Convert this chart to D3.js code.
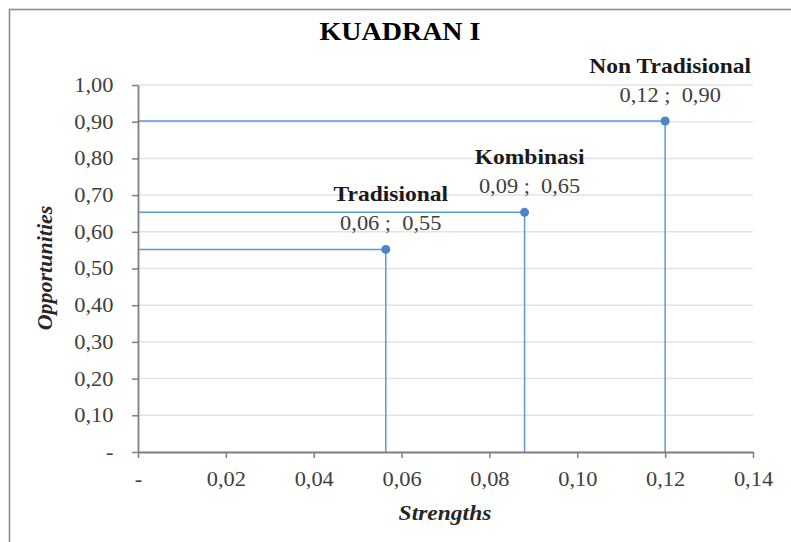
<!DOCTYPE html>
<meta charset="utf-8">
<script src="https://d3js.org/d3.v7.min.js"></script>
<style>
  body { margin: 0; background: #fff; }
  text { font-family: "Liberation Serif", "Times New Roman", serif; }
</style>
<div id="chart"></div>
<script>
// quadrant I data: strengths (x) and opportunities (y) per strategy
const names = ["Tradisional", "Kombinasi", "Non Tradisional"];
const strengths = [0.0564, 0.088, 0.12];
const opportunities = [0.552, 0.653, 0.902];
const xTicks = [0, 0.02, 0.04, 0.06, 0.08, 0.10, 0.12, 0.14];
const yTicks = [0, 0.1, 0.2, 0.3, 0.4, 0.5, 0.6, 0.7, 0.8, 0.9, 1.0];

const W = 791, H = 542;
const margin = {top: 85, right: 38, bottom: 90, left: 138};
const stretch = 1.12; // the source picture is a bit wider than tall
const blue = "#5b9bd5", dot = "#4a86c5";

const fmt = d => d === 0 ? "-" : d3.format(".2f")(d).replace(".", ",");

const svg = d3.select("#chart").append("svg")
  .attr("width", W).attr("height", H);

// outer frame
svg.append("rect")
  .attr("x", 9.5).attr("y", 9.5)
  .attr("width", 900).attr("height", 700)
  .attr("fill", "#fff").attr("stroke", "#8c8c8c").attr("stroke-width", 1.6);

const x = d3.scaleLinear().domain([0, 0.14]).range([margin.left, W - margin.right]);
const y = d3.scaleLinear().domain([0, 1]).range([H - margin.bottom, margin.top]);

// horizontal gridlines
svg.append("g")
  .selectAll("line")
  .data(yTicks.filter(d => d > 0))
  .enter().append("line")
  .attr("x1", x(0)).attr("x2", x(0.14))
  .attr("y1", d => y(d)).attr("y2", d => y(d))
  .attr("stroke", "#e3e3e3").attr("stroke-width", 1.5);

// drop lines from each point to both axes
const idx = d3.range(names.length);
svg.append("g")
  .selectAll("path")
  .data(idx)
  .enter().append("path")
  .attr("d", i => `M${x(0)},${y(opportunities[i])}H${x(strengths[i])}V${y(0)}`)
  .attr("fill", "none").attr("stroke", blue).attr("stroke-width", 1.5);

// axes
const yAxis = svg.append("g")
  .attr("transform", `translate(${x(0)},0)`)
  .call(d3.axisLeft(y).tickValues(yTicks).tickFormat(fmt).tickSize(6).tickSizeOuter(0).tickPadding(16));
const xAxis = svg.append("g")
  .attr("transform", `translate(0,${y(0)})`)
  .call(d3.axisBottom(x).tickValues(xTicks).tickFormat(fmt).tickSize(6).tickSizeOuter(0).tickPadding(14));

[xAxis, yAxis].forEach(ax => {
  ax.select(".domain").attr("stroke", "#7f7f7f").attr("stroke-width", 1.8);
  ax.selectAll(".tick line").attr("stroke", "#7f7f7f").attr("stroke-width", 1.5);
  ax.selectAll(".tick text")
    .attr("font-family", "Liberation Serif")
    .attr("font-size", 20)
    .attr("fill", "#404040")
    .attr("transform", `scale(${stretch},1)`);
});

// points
svg.append("g")
  .selectAll("circle")
  .data(idx)
  .enter().append("circle")
  .attr("cx", i => x(strengths[i]))
  .attr("cy", i => y(opportunities[i]))
  .attr("r", 4.5)
  .attr("fill", dot);

// data labels: name on top, "x ;  y" under it
function stretchedText(g, tx, ty, str) {
  return g.append("text")
    .attr("transform", `translate(${tx},${ty}) scale(${stretch},1)`)
    .attr("text-anchor", "middle")
    .style("white-space", "pre")
    .text(str);
}
const labels = svg.append("g");
idx.forEach(i => {
  const px = x(strengths[i]) + 5, py = y(opportunities[i]);
  stretchedText(labels, px, py - 48, names[i])
    .attr("font-size", 21).attr("font-weight", "bold").attr("fill", "#1a1a1a");
  stretchedText(labels, px, py - 19, fmt(strengths[i]) + " ;  " + fmt(opportunities[i]))
    .attr("font-size", 20).attr("fill", "#404040");
});

// title
stretchedText(svg, 400, 40, "KUADRAN I")
  .attr("font-size", 25).attr("font-weight", "bold").attr("fill", "#000");

// axis titles
stretchedText(svg, 445, 520, "Strengths")
  .attr("font-size", 21).attr("font-weight", "bold").attr("font-style", "italic").attr("fill", "#262626");
svg.append("text")
  .attr("transform", "translate(52,268) rotate(-90)")
  .attr("text-anchor", "middle")
  .attr("font-size", 22).attr("font-weight", "bold").attr("font-style", "italic").attr("fill", "#262626")
  .text("Opportunities");
</script>
